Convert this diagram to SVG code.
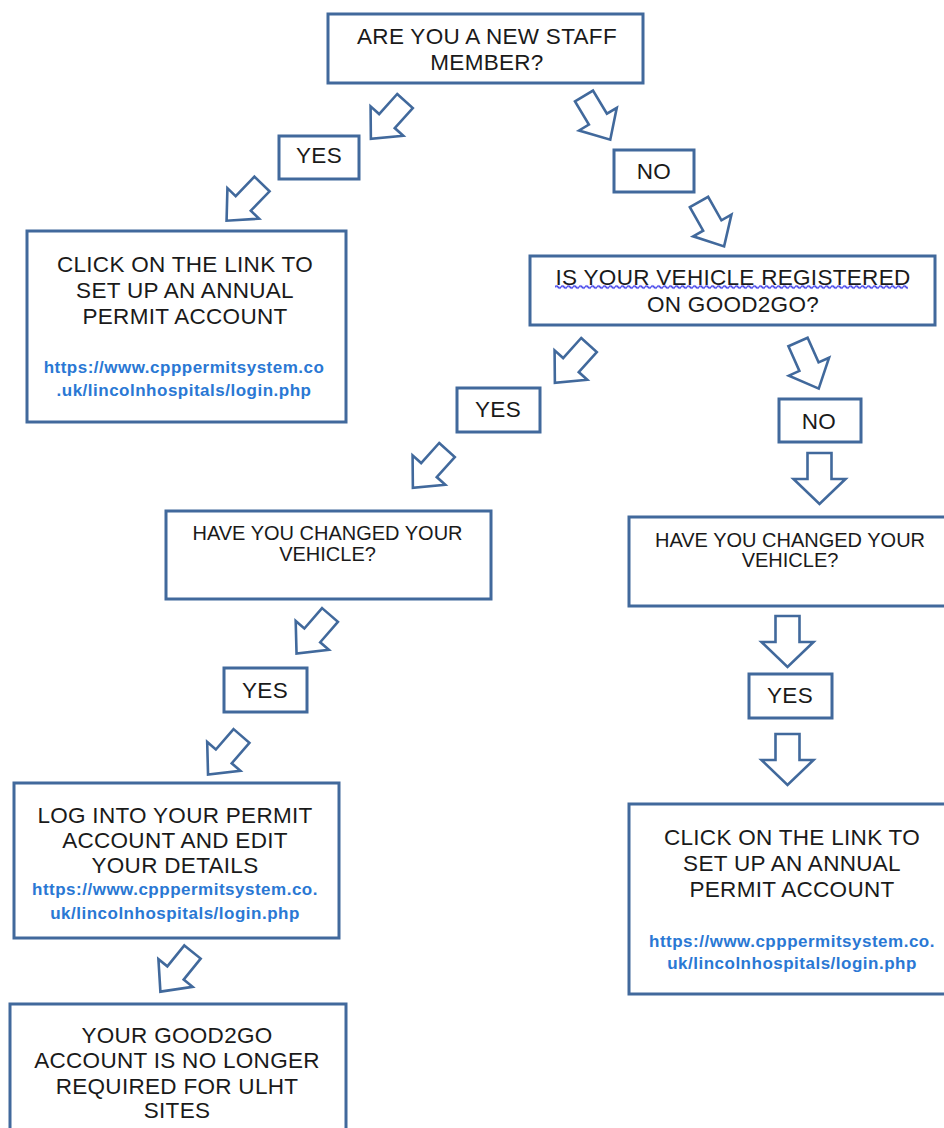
<svg xmlns="http://www.w3.org/2000/svg" width="944" height="1128" viewBox="0 0 944 1128">
<style>
.box{fill:#fff;stroke:#41699c;stroke-width:3}
.arr{fill:#fff;stroke:#41699c;stroke-width:2.6;stroke-linejoin:miter}
.t{font-family:"Liberation Sans",Arial,sans-serif;fill:#1a1a1a;text-anchor:middle}
.big{font-size:22.5px;letter-spacing:0.3px}
.mid{font-size:20px}
.url{font-family:"Liberation Sans",Arial,sans-serif;font-size:17px;letter-spacing:0.5px;font-weight:bold;fill:#2a78d4;text-anchor:middle}
</style>
<defs>
<path id="diag" d="M-10.5,0 H10.5 V27 H22 L0,51 L-22,27 H-10.5 Z"/>
<path id="down" d="M-12,0 H12 V26 H26 L0,51 L-26,26 H-12 Z"/>
<pattern id="wave" width="6" height="5" patternUnits="userSpaceOnUse" x="555" y="284.5">
<path d="M0,2.5 Q1.5,0.3 3,2.5 T6,2.5" fill="none" stroke="#3535e8" stroke-width="1.5"/>
</pattern>
</defs>
<rect width="944" height="1128" fill="#fff"/>

<g id="connectors">
<use href="#diag" class="arr" transform="translate(405,101) rotate(42)"/>
<use href="#diag" class="arr" transform="translate(262,184) rotate(44)"/>
<use href="#diag" class="arr" transform="translate(584,96) rotate(-31)"/>
<use href="#diag" class="arr" transform="translate(699,202) rotate(-29.5)"/>
<use href="#diag" class="arr" transform="translate(589,345) rotate(42)"/>
<use href="#diag" class="arr" transform="translate(447,450) rotate(42)"/>
<use href="#diag" class="arr" transform="translate(798,342) rotate(-24)"/>
<use href="#down" class="arr" transform="translate(819.5,453)"/>
<use href="#diag" class="arr" transform="translate(330,615) rotate(41)"/>
<use href="#down" class="arr" transform="translate(787.5,616)"/>
<use href="#diag" class="arr" transform="translate(241.5,736) rotate(41)"/>
<use href="#down" class="arr" transform="translate(787.5,734)"/>
<use href="#diag" class="arr" transform="translate(192.5,952) rotate(39)"/>
</g>

<g id="new-staff">
<rect class="box" x="328" y="14" width="315" height="69"/>
<text class="t big" x="487" y="43.5">ARE YOU A NEW STAFF</text>
<text class="t big" x="487" y="70">MEMBER?</text>
</g>

<g id="yes-1">
<rect class="box" x="279" y="136" width="80" height="43"/>
<text class="t big" x="319" y="163">YES</text>
</g>

<g id="no-1">
<rect class="box" x="614" y="150" width="80" height="42"/>
<text class="t big" x="654" y="179">NO</text>
</g>

<g id="click-link-left">
<rect class="box" x="27" y="231" width="319" height="191"/>
<text class="t big" x="185" y="271.5">CLICK ON THE LINK TO</text>
<text class="t big" x="185" y="297.5">SET UP AN ANNUAL</text>
<text class="t big" x="185" y="324">PERMIT ACCOUNT</text>
<text class="url" x="184" y="372.5">https://www.cpppermitsystem.co</text>
<text class="url" x="184" y="395.5">.uk/lincolnhospitals/login.php</text>
</g>

<g id="vehicle-registered">
<rect class="box" x="530" y="256" width="405" height="69"/>
<text class="t big" x="733" y="285">IS YOUR VEHICLE REGISTERED</text>
<rect x="555" y="284.5" width="353" height="5" fill="url(#wave)"/>
<text class="t big" x="733" y="311.5">ON GOOD2GO?</text>
</g>

<g id="yes-2">
<rect class="box" x="457" y="388" width="83" height="44"/>
<text class="t big" x="498" y="417">YES</text>
</g>

<g id="no-2">
<rect class="box" x="779" y="399" width="82" height="43"/>
<text class="t big" x="819" y="428.5">NO</text>
</g>

<g id="changed-vehicle-left">
<rect class="box" x="166" y="511" width="325" height="88"/>
<text class="t mid" x="327.5" y="540">HAVE YOU CHANGED YOUR</text>
<text class="t mid" x="327.5" y="561">VEHICLE?</text>
</g>

<g id="changed-vehicle-right">
<rect class="box" x="629" y="517" width="322" height="89"/>
<text class="t mid" x="790" y="546.5">HAVE YOU CHANGED YOUR</text>
<text class="t mid" x="790" y="567">VEHICLE?</text>
</g>

<g id="yes-3">
<rect class="box" x="224" y="668" width="83" height="44"/>
<text class="t big" x="265" y="698">YES</text>
</g>

<g id="yes-4">
<rect class="box" x="749" y="674" width="83" height="44"/>
<text class="t big" x="790" y="703">YES</text>
</g>

<g id="log-into-account">
<rect class="box" x="14" y="783" width="325" height="155"/>
<text class="t big" x="175" y="823">LOG INTO YOUR PERMIT</text>
<text class="t big" x="175" y="848">ACCOUNT AND EDIT</text>
<text class="t big" x="175" y="873">YOUR DETAILS</text>
<text class="url" x="175" y="895">https://www.cpppermitsystem.co.</text>
<text class="url" x="175" y="918.5">uk/lincolnhospitals/login.php</text>
</g>

<g id="click-link-right">
<rect class="box" x="629" y="804" width="322" height="190"/>
<text class="t big" x="792" y="845">CLICK ON THE LINK TO</text>
<text class="t big" x="792" y="870.5">SET UP AN ANNUAL</text>
<text class="t big" x="792" y="896.5">PERMIT ACCOUNT</text>
<text class="url" x="792" y="946.5">https://www.cpppermitsystem.co.</text>
<text class="url" x="792" y="968.5">uk/lincolnhospitals/login.php</text>
</g>

<g id="good2go-not-required">
<rect class="box" x="10" y="1004" width="336" height="140"/>
<text class="t big" x="177" y="1043">YOUR GOOD2GO</text>
<text class="t big" x="177" y="1068">ACCOUNT IS NO LONGER</text>
<text class="t big" x="177" y="1093.5">REQUIRED FOR ULHT</text>
<text class="t big" x="177" y="1118">SITES</text>
</g>
</svg>
